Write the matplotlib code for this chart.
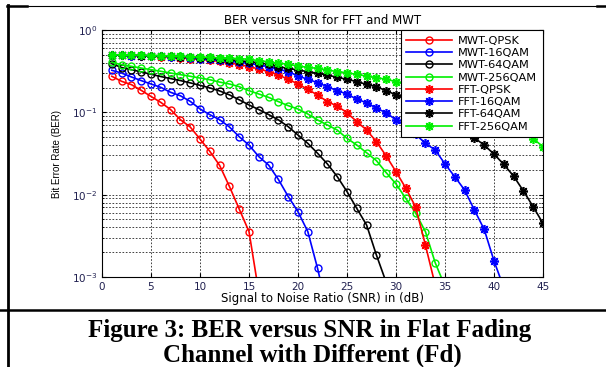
import matplotlib
matplotlib.use("Agg")
import matplotlib.pyplot as plt
from matplotlib.lines import Line2D

# BER values, one marker per dB starting at 1 dB
mwt_qpsk = [0.274, 0.238, 0.217, 0.185, 0.156, 0.132, 0.108, 0.0814, 0.0664, 0.0474,
            0.0336, 0.0227, 0.0126, 0.0067, 0.00356, 0.00065]
mwt_16qam = [0.324, 0.30, 0.269, 0.243, 0.221, 0.201, 0.175, 0.159, 0.136, 0.110,
             0.0937, 0.0815, 0.0664, 0.0506, 0.040, 0.029, 0.0229, 0.0153, 0.0095, 0.0062,
             0.00356, 0.00127, 0.00038]
mwt_64qam = [0.39, 0.35, 0.33, 0.31, 0.29, 0.272, 0.257, 0.243, 0.228, 0.213,
             0.198, 0.182, 0.163, 0.142, 0.123, 0.108, 0.094, 0.081, 0.067, 0.053,
             0.042, 0.0318, 0.0236, 0.0166, 0.0109, 0.0068, 0.00428, 0.00185, 0.00086]
mwt_256qam = [0.405, 0.379, 0.362, 0.345, 0.33, 0.315, 0.30, 0.287, 0.274, 0.261,
              0.249, 0.233, 0.221, 0.205, 0.183, 0.167, 0.152, 0.135, 0.1205, 0.1097,
              0.0955, 0.0807, 0.0702, 0.061, 0.0483, 0.0401, 0.0323, 0.0259, 0.0185, 0.0135,
              0.0090, 0.0060, 0.00356, 0.00149, 0.00077]
fft_qpsk = [0.50, 0.495, 0.49, 0.485, 0.48, 0.475, 0.47, 0.46, 0.45, 0.44,
            0.43, 0.415, 0.40, 0.38, 0.36, 0.336, 0.312, 0.284, 0.252, 0.221,
            0.190, 0.162, 0.135, 0.119, 0.099, 0.077, 0.061, 0.044, 0.0295, 0.019,
            0.012, 0.0071, 0.00245, 0.0008]
fft_16qam = [0.50, 0.495, 0.49, 0.49, 0.485, 0.48, 0.475, 0.47, 0.46, 0.45,
             0.44, 0.43, 0.42, 0.405, 0.394, 0.376, 0.359, 0.333, 0.312, 0.276,
             0.252, 0.229, 0.205, 0.183, 0.167, 0.144, 0.131, 0.112, 0.099, 0.0807,
             0.068, 0.054, 0.042, 0.0349, 0.0236, 0.0165, 0.0114, 0.0065, 0.00379, 0.00157,
             0.00074]
fft_64qam = [0.50, 0.50, 0.495, 0.49, 0.49, 0.485, 0.48, 0.475, 0.47, 0.46,
             0.455, 0.445, 0.435, 0.425, 0.412, 0.401, 0.383, 0.359, 0.342, 0.327,
             0.312, 0.298, 0.284, 0.266, 0.252, 0.236, 0.219, 0.205, 0.183, 0.163,
             0.143, 0.125, 0.108, 0.093, 0.081, 0.069, 0.059, 0.049, 0.040, 0.0311,
             0.0233, 0.0168, 0.0111, 0.00713, 0.00448]
fft_256qam = [0.50, 0.50, 0.50, 0.495, 0.49, 0.49, 0.485, 0.48, 0.475, 0.47,
              0.465, 0.46, 0.455, 0.45, 0.44, 0.425, 0.412, 0.394, 0.386, 0.365,
              0.352, 0.342, 0.327, 0.312, 0.303, 0.289, 0.276, 0.264, 0.252, 0.236,
              0.219, 0.204, 0.19, 0.174, 0.158, 0.145, 0.132, 0.117, 0.105, 0.093,
              0.081, 0.071, 0.060, 0.048, 0.0382]

labels = ["MWT-QPSK", "MWT-16QAM", "MWT-64QAM", "MWT-256QAM",
          "FFT-QPSK", "FFT-16QAM", "FFT-64QAM", "FFT-256QAM"]
series = [mwt_qpsk, mwt_16qam, mwt_64qam, mwt_256qam,
          fft_qpsk, fft_16qam, fft_64qam, fft_256qam]
x_ticks = [0, 5, 10, 15, 20, 25, 30, 35, 40, 45]

COLORS = ["#ff0000", "#0000ff", "#000000", "#00f000"] * 2
MARKERS = ["o"] * 4 + [(8, 2, 0)] * 4

plt.rcParams["font.family"] = ["DejaVu Sans"]
W, H = 606, 367
fig = plt.figure(figsize=(W / 100, H / 100), dpi=100)
ax = fig.add_axes([102 / W, 1 - 277 / H, (543 - 102) / W, (277 - 30) / H])

for y, lab, c, m in zip(series, labels, COLORS, MARKERS):
    snr = list(range(1, len(y) + 1))
    if m == "o":
        ax.plot(snr, y, color=c, lw=1.2, marker=m, ms=5, mfc="none", mec=c, mew=1.0, label=lab)
    else:
        ax.plot(snr, y, color=c, lw=1.2, marker=m, ms=6.5, mec=c, mew=1.2, label=lab)

ax.set_yscale("log")
ax.set_xlim(0, 45)
ax.set_ylim(1e-3, 1)
ax.set_xticks(x_ticks)
ax.grid(True, which="major", axis="x", ls=(0, (2, 2)), lw=0.6, color="#222222")
ax.grid(True, which="both", axis="y", ls=(0, (2, 2)), lw=0.6, color="#222222")
tick_col = "#202050"
ax.tick_params(which="both", direction="in", top=True, right=True, labelsize=7.5, colors="black",
               labelcolor=tick_col)
ax.tick_params(which="major", length=3)
ax.tick_params(which="minor", length=1.5)
for sp in ax.spines.values():
    sp.set_linewidth(0.8)

ax.set_title("BER versus SNR for FFT and MWT", fontsize=8.5, pad=4)
ax.set_xlabel("Signal to Noise Ratio (SNR) in (dB)", fontsize=8.5, labelpad=0)
ax.set_ylabel("Bit Error Rate (BER)", fontsize=7, labelpad=7, family="Liberation Sans")

leg = ax.legend(loc="upper right", borderaxespad=0, fontsize=8.2, frameon=True, fancybox=False,
                framealpha=1, edgecolor="black", handlelength=4.0, handletextpad=0.55,
                labelspacing=0.2, borderpad=0.5)
leg.get_frame().set_linewidth(0.8)
leg.set_zorder(20)

# table borders of the page
def fig_line(x0, y0, x1, y1, lw):
    fig.add_artist(Line2D([x0 / W, x1 / W], [1 - y0 / H, 1 - y1 / H], color="black", lw=lw,
                          transform=fig.transFigure))

fig_line(7.5, 5, 7.5, 367, 2.0)
fig_line(7, 5.5, 597, 5.5, 0.8)
fig_line(7, 6, 27, 6, 1.8)
fig_line(597, 6, 606, 6, 1.8)
fig_line(0, 310, 606, 310, 1.8)

fig.text(310 / W, 1 - 330 / H, "Figure 3: BER versus SNR in Flat Fading", ha="center", va="center",
         fontsize=18, fontweight="bold", family="Liberation Serif")
fig.text(312 / W, 1 - 355 / H, "Channel with Different (Fd)", ha="center", va="center",
         fontsize=18, fontweight="bold", family="Liberation Serif")

fig.savefig("out.png", dpi=100)
